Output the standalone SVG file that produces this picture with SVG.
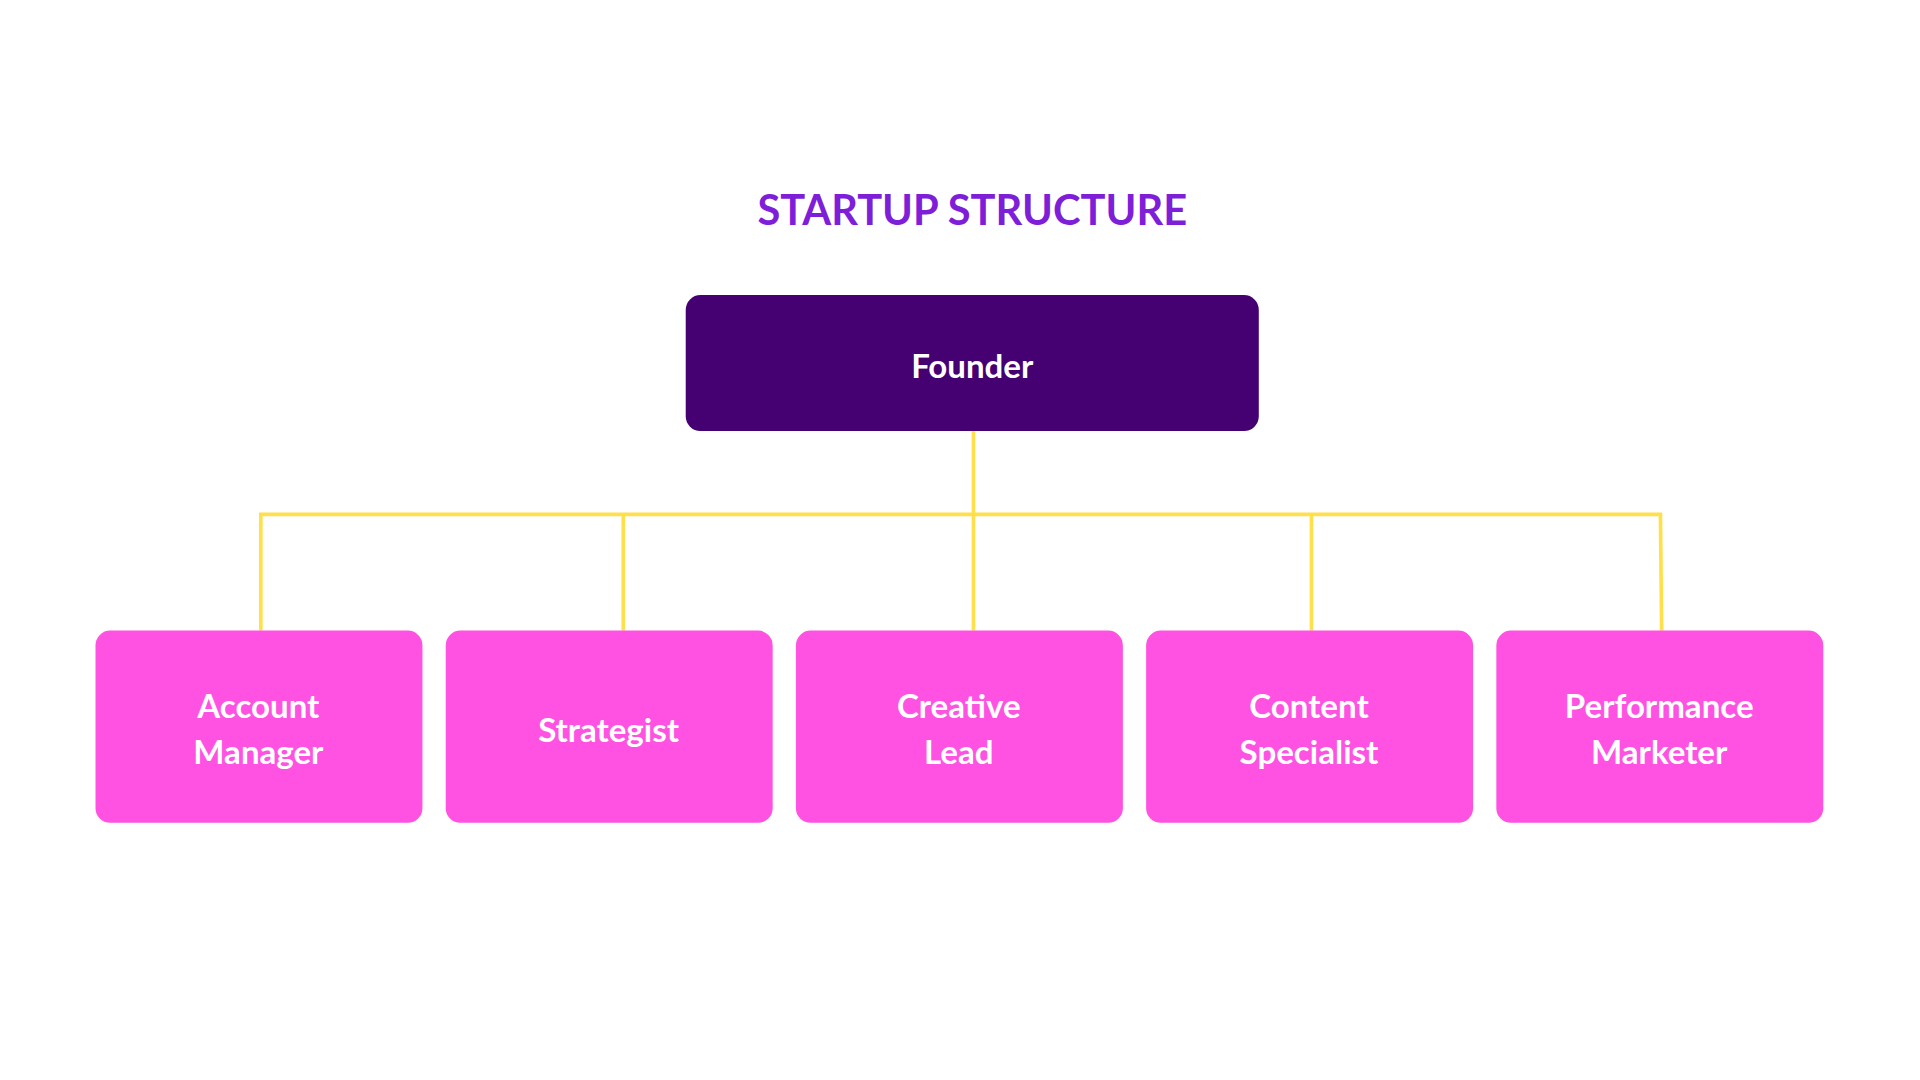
<svg xmlns="http://www.w3.org/2000/svg" width="1920" height="1080" viewBox="0 0 1920 1080">
<style>
.t{font-family:Lato,"Open Sans",sans-serif;font-weight:bold;fill:#fff;font-size:27px;text-anchor:middle;dominant-baseline:central}
.c{fill:#FF52E2}
.l{stroke:#FFE04A;stroke-width:3;fill:none}
</style>
<rect width="1920" height="1080" fill="#fff"/>
<g transform="scale(1.2245)">
<text x="794" y="171" font-family="Lato,'Open Sans',sans-serif" font-weight="bold" font-size="34" fill="#7E1ED8" text-anchor="middle" dominant-baseline="central">STARTUP STRUCTURE</text>
<g id="connectors" class="l">
<path d="M795 352V420M213 515V420H1356L1357 515M509 420V515M795 420V515M1071 420V515"/>
</g>
<g id="founder"><rect x="560" y="241" width="468" height="111" rx="12" fill="#450072"/><text class="t" x="794" y="298">Founder</text></g>
<g id="account"><rect class="c" x="78" y="515" width="267" height="157" rx="12"/><text class="t" x="211" y="576">Account</text><text class="t" x="211" y="613">Manager</text></g>
<g id="strategist"><rect class="c" x="364" y="515" width="267" height="157" rx="12"/><text class="t" x="497" y="595">Strategist</text></g>
<g id="creative"><rect class="c" x="650" y="515" width="267" height="157" rx="12"/><text class="t" x="783" y="576">Creative</text><text class="t" x="783" y="613">Lead</text></g>
<g id="content"><rect class="c" x="936" y="515" width="267" height="157" rx="12"/><text class="t" x="1069" y="576">Content</text><text class="t" x="1069" y="613">Specialist</text></g>
<g id="performance"><rect class="c" x="1222" y="515" width="267" height="157" rx="12"/><text class="t" x="1355" y="576">Performance</text><text class="t" x="1355" y="613">Marketer</text></g>
</g>
</svg>
